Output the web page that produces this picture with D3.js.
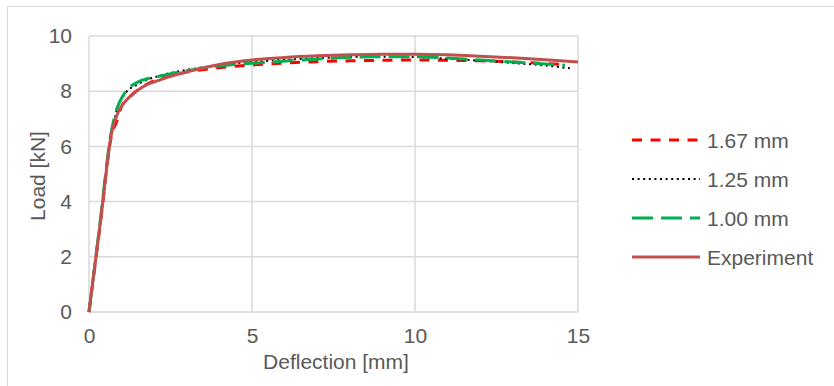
<!DOCTYPE html>
<html>
<head>
<meta charset="utf-8">
<script src="https://cdn.jsdelivr.net/npm/d3@7"></script>
<style>
  html, body { margin: 0; padding: 0; background: #fff; }
  svg { display: block; font-family: "Liberation Sans", Arial, sans-serif; }
</style>
</head>
<body>
<svg id="chart" width="834" height="386"></svg>
<script>
// Load–deflection curves: three mesh sizes and the test result
const seriesNames = ["1.67 mm", "1.25 mm", "1.00 mm", "Experiment"];

const defl167 = [0, 0.35, 0.7, 0.85, 1.0, 1.3, 1.8, 2.7, 3.7, 5.0, 6.0, 7.0, 8.0, 9.0, 10.0, 11.0, 12.0, 13.0, 14.0, 14.6];
const load167 = [0, 3.22, 6.45, 6.9, 7.45, 7.85, 8.27, 8.62, 8.81, 8.95, 9.02, 9.07, 9.1, 9.12, 9.13, 9.12, 9.1, 9.06, 9.0, 8.97];

const defl125 = [0, 0.35, 0.7, 0.85, 1.1, 1.5, 2.3, 3.3, 4.3, 5.5, 6.5, 7.5, 8.7, 10.0, 11.0, 12.0, 13.0, 14.0, 14.75];
const load125 = [0, 3.25, 6.5, 7.3, 7.9, 8.25, 8.6, 8.83, 8.98, 9.1, 9.17, 9.22, 9.25, 9.24, 9.18, 9.1, 9.02, 8.93, 8.83];

const defl100 = [0, 0.34, 0.68, 0.85, 1.05, 1.45, 2.3, 3.3, 4.3, 5.5, 6.5, 7.5, 8.7, 10.0, 11.0, 12.0, 13.0, 14.0, 14.6];
const load100 = [0, 3.25, 6.5, 7.35, 7.85, 8.3, 8.58, 8.8, 8.95, 9.05, 9.13, 9.2, 9.25, 9.25, 9.2, 9.13, 9.06, 8.99, 8.94];

const deflExp = [0, 0.35, 0.7, 0.9, 1.15, 1.6, 2.2, 3.0, 4.0, 5.0, 6.0, 7.0, 8.0, 9.0, 10.0, 11.0, 12.0, 13.0, 14.0, 15.0];
const loadExp = [0, 3.27, 6.53, 7.25, 7.68, 8.12, 8.42, 8.70, 8.97, 9.13, 9.22, 9.28, 9.32, 9.34, 9.34, 9.32, 9.27, 9.21, 9.14, 9.06];

const xTicks = [0, 5, 10, 15];
const yTicks = [0, 2, 4, 6, 8, 10];

const seriesX = [defl167, defl125, defl100, deflExp];
const seriesY = [load167, load125, load100, loadExp];
const styles = [
  { color: "#ff0000", width: 3, dash: "10,8.5" },
  { color: "#000000", width: 2, dash: "2,3.6" },
  { color: "#00b050", width: 3, dash: "21,8" },
  { color: "#c0504d", width: 3, dash: null }
];

const svg = d3.select("#chart");

// outer chart frame
svg.append("rect")
  .attr("x", 7.5).attr("y", 6.5)
  .attr("width", 860).attr("height", 420)
  .attr("fill", "none").attr("stroke", "#d9d9d9").attr("stroke-width", 1);

const x = d3.scaleLinear().domain([0, 15]).range([89, 578]);
const y = d3.scaleLinear().domain([0, 10]).range([312, 36]);

const textColor = "#595959";
const fontSize = 21;

// gridlines
const grid = svg.append("g");
grid.selectAll("line.v").data(xTicks).join("line")
  .attr("x1", d => x(d)).attr("x2", d => x(d))
  .attr("y1", y(0)).attr("y2", y(10))
  .attr("stroke", "#d9d9d9").attr("stroke-width", 1.5);
grid.selectAll("line.h").data(yTicks).join("line")
  .attr("x1", x(0)).attr("x2", x(15))
  .attr("y1", d => y(d)).attr("y2", d => y(d))
  .attr("stroke", "#d9d9d9").attr("stroke-width", 1.5);

// axes (labels only; lines come from the grid)
const xAxis = svg.append("g")
  .attr("transform", `translate(0,${y(0)})`)
  .call(d3.axisBottom(x).tickValues(xTicks).tickSize(0).tickPadding(16).tickFormat(d3.format("d")));
const yAxis = svg.append("g")
  .attr("transform", `translate(${x(0)},0)`)
  .call(d3.axisLeft(y).tickValues(yTicks).tickSize(0).tickPadding(17).tickFormat(d3.format("d")));
[xAxis, yAxis].forEach(a => {
  a.select(".domain").remove();
  a.selectAll("text")
    .attr("fill", textColor)
    .style("font-size", fontSize + "px")
    .style("font-family", "'Liberation Sans', Arial, sans-serif");
});

// axis titles
svg.append("text")
  .attr("x", 336).attr("y", 369)
  .attr("text-anchor", "middle")
  .attr("fill", textColor).style("font-size", fontSize + "px")
  .text("Deflection [mm]");
svg.append("text")
  .attr("transform", `translate(45,176) rotate(-90)`)
  .attr("text-anchor", "middle")
  .attr("fill", textColor).style("font-size", fontSize + "px")
  .text("Load [kN]");

// curves
const line = d3.line()
  .x(d => x(d[0]))
  .y(d => y(d[1]))
  .curve(d3.curveMonotoneX);

const plot = svg.append("g");
seriesNames.forEach((name, i) => {
  const pts = seriesX[i].map((v, k) => [v, seriesY[i][k]]);
  const s = styles[i];
  plot.append("path")
    .datum(pts)
    .attr("d", line)
    .attr("fill", "none")
    .attr("stroke", s.color)
    .attr("stroke-width", s.width)
    .attr("stroke-dasharray", s.dash)
    .attr("stroke-linejoin", "round");
});

// legend
const legendY = d3.scalePoint().domain(seriesNames).range([140, 257]);
const legend = svg.append("g");
seriesNames.forEach((name, i) => {
  const s = styles[i];
  const ly = legendY(name);
  legend.append("line")
    .attr("x1", 632).attr("x2", 700)
    .attr("y1", ly).attr("y2", ly)
    .attr("stroke", s.color)
    .attr("stroke-width", s.width)
    .attr("stroke-dasharray", s.dash);
  legend.append("text")
    .attr("x", 707).attr("y", ly)
    .attr("dy", "0.36em")
    .attr("fill", textColor).style("font-size", fontSize + "px")
    .text(name);
});
</script>
</body>
</html>
